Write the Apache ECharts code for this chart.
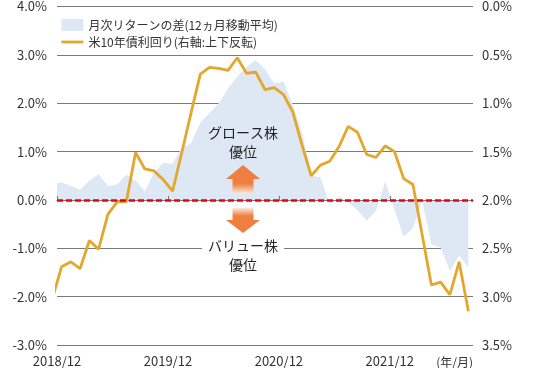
<!DOCTYPE html>
<html>
<head>
<meta charset="utf-8">
<script src="https://cdn.jsdelivr.net/npm/echarts/dist/echarts.min.js"></script>
<style>
html,body{margin:0;padding:0;background:#fff;}
#chart{width:534px;height:368px;}
</style>
</head>
<body>
<div id="chart"></div>
<script>
// Months (first entry lies just left of the visible range and is clipped)
const months = [
  '2018/11','2018/12',
  '2019/01','2019/02','2019/03','2019/04','2019/05','2019/06','2019/07','2019/08','2019/09','2019/10','2019/11','2019/12',
  '2020/01','2020/02','2020/03','2020/04','2020/05','2020/06','2020/07','2020/08','2020/09','2020/10','2020/11','2020/12',
  '2021/01','2021/02','2021/03','2021/04','2021/05','2021/06','2021/07','2021/08','2021/09','2021/10','2021/11','2021/12',
  '2022/01','2022/02','2022/03','2022/04','2022/05','2022/06','2022/07','2022/08'
];
// Monthly return difference (12-month moving average), left axis, %
const spreadValues = [
  0.34, 0.36,
  0.29, 0.21, 0.40, 0.53, 0.29, 0.32, 0.52, 0.40, 0.18, 0.56, 0.77, 0.75,
  1.08, 1.17, 1.60, 1.80, 2.00, 2.31, 2.55, 2.75, 2.89, 2.70, 2.41, 2.45,
  1.98, 1.40, 0.50, 0.47, -0.10, 0.07, -0.05, -0.21, -0.43, -0.23, 0.38, -0.20,
  -0.76, -0.58, -0.02, -0.92, -0.99, -1.47, -1.15, -1.40
];
// US 10-year yield, right axis (inverted), %
const yieldValues = [
  3.02, 2.69,
  2.64, 2.71, 2.42, 2.51, 2.15, 2.02, 2.02, 1.51, 1.68, 1.70, 1.79, 1.91,
  1.51, 1.10, 0.70, 0.63, 0.64, 0.66, 0.53, 0.69, 0.68, 0.86, 0.84, 0.91,
  1.09, 1.43, 1.75, 1.64, 1.60, 1.45, 1.24, 1.30, 1.53, 1.56, 1.44, 1.50,
  1.78, 1.84, 2.36, 2.88, 2.85, 2.98, 2.64, 3.15
];
const tickMonths = ['2018/12','2019/12','2020/12','2021/12'];
const leftTicks = [-3, -2, -1, 0, 1, 2, 3, 4];
const rightTicks = [0, 0.5, 1, 1.5, 2, 2.5, 3, 3.5];

const spreadName = '月次リターンの差(12ヵ月移動平均)';
const yieldName = '米10年債利回り(右軸:上下反転)';

const FONT = "'Noto Sans CJK JP', 'Noto Sans', sans-serif";
const ORANGE = '#ef7f3e';
const GRID = '#7a7a7a';
const TXT = '#333';

// label positions sit at the boundary before each labelled month
const tickPos = tickMonths.map(m => months.indexOf(m) - 0.5);
const xMin = tickPos[0];
const xMax = months.length - 0.5;

const spreadData = months.map((m, i) => [i, spreadValues[i]]);
const yieldData = months.map((m, i) => [i, yieldValues[i]]);

const chart = echarts.init(document.getElementById('chart'), null, {renderer: 'canvas'});
chart.setOption({
  animation: false,
  backgroundColor: '#fff',
  textStyle: {fontFamily: FONT},
  grid: {left: 57, right: 61, top: 6, bottom: 22, containLabel: false},
  legend: {
    orient: 'vertical', left: 55, top: 14,
    itemWidth: 22, itemHeight: 12, itemGap: 5,
    textStyle: {fontSize: 12, color: TXT, fontFamily: FONT},
    data: [
      {name: spreadName, icon: 'rect'},
      {name: yieldName, itemStyle: {opacity: 0}, lineStyle: {width: 2.8, color: '#e2a72c'}}
    ]
  },
  xAxis: [
    {
      type: 'value', position: 'bottom', min: xMin, max: xMax,
      axisLine: {show: false, onZero: false},
      axisTick: {show: false},
      splitLine: {show: false},
      axisLabel: {
        customValues: tickPos, margin: 10, fontSize: 13, color: TXT, fontFamily: FONT,
        formatter: v => months[Math.round(v + 0.5)]
      }
    },
    {
      type: 'value', position: 'top', min: xMin, max: xMax, z: 3,
      axisLine: {show: true, onZero: true, onZeroAxisIndex: 0, lineStyle: {color: GRID, width: 1}},
      axisTick: {show: true, inside: false, length: 4, customValues: tickPos, lineStyle: {color: GRID}},
      axisLabel: {show: false},
      splitLine: {show: false}
    }
  ],
  yAxis: [
    {
      type: 'value', position: 'left', min: leftTicks[0], max: leftTicks[leftTicks.length - 1], interval: 1,
      axisLine: {show: false}, axisTick: {show: false},
      splitLine: {show: true, lineStyle: {color: GRID, width: 1}},
      axisLabel: {margin: 10, fontSize: 13, color: TXT, fontFamily: FONT, formatter: v => v.toFixed(1) + '%'}
    },
    {
      type: 'value', position: 'right', inverse: true, min: rightTicks[0], max: rightTicks[rightTicks.length - 1], interval: 0.5,
      axisLine: {show: false}, axisTick: {show: false}, splitLine: {show: false},
      axisLabel: {margin: 9, fontSize: 13, color: TXT, fontFamily: FONT, formatter: v => v.toFixed(1) + '%'}
    }
  ],
  series: [
    {
      name: spreadName, type: 'line', xAxisIndex: 0, yAxisIndex: 0,
      data: spreadData, symbol: 'none', color: '#dde8f4',
      lineStyle: {width: 0, color: '#dde8f4'},
      areaStyle: {color: '#dde8f4', opacity: 1},
      markLine: {
        silent: true, symbol: 'none', label: {show: false}, z: 5,
        lineStyle: {color: '#e60012', type: [6, 3], width: 2.6},
        data: [{yAxis: 0}]
      },
      z: 2
    },
    {
      name: yieldName, type: 'line', xAxisIndex: 0, yAxisIndex: 1,
      data: yieldData, symbol: 'none', color: '#e2a72c',
      lineStyle: {width: 2.8, color: '#e2a72c'},
      z: 4
    }
  ],
  graphic: [
    {type: 'text', x: 243, y: 142, z: 20,
      style: {text: 'グロース株\n優位', fill: '#222', fontSize: 14, fontFamily: FONT, lineHeight: 19, align: 'center', verticalAlign: 'middle'}},
    {type: 'polygon', z: 20, shape: {points: [[243, 165], [226, 179], [260, 179]]}, style: {fill: ORANGE}},
    {type: 'rect', z: 20, shape: {x: 232.5, y: 178.5, width: 21, height: 15},
      style: {fill: {type: 'linear', x: 0, y: 0, x2: 0, y2: 1, colorStops: [
        {offset: 0, color: ORANGE}, {offset: 0.35, color: ORANGE}, {offset: 1, color: '#fbe7dc'}]}}},
    {type: 'rect', z: 20, shape: {x: 232.5, y: 207.5, width: 21, height: 13},
      style: {fill: {type: 'linear', x: 0, y: 0, x2: 0, y2: 1, colorStops: [
        {offset: 0, color: '#fdeee6'}, {offset: 0.65, color: ORANGE}, {offset: 1, color: ORANGE}]}}},
    {type: 'polygon', z: 20, shape: {points: [[226, 220], [260, 220], [243, 233]]}, style: {fill: ORANGE}},
    {type: 'text', x: 243, y: 255, z: 20,
      style: {text: 'バリュー株\n優位', fill: '#222', fontSize: 14, fontFamily: FONT, lineHeight: 18.5, align: 'center', verticalAlign: 'middle',
        backgroundColor: '#fff', padding: [0, 6]}},
    {type: 'text', x: 473, y: 362, z: 20,
      style: {text: '(年/月)', fill: TXT, fontSize: 12, fontFamily: FONT, align: 'right', verticalAlign: 'middle'}}
  ]
});
</script>
</body>
</html>
